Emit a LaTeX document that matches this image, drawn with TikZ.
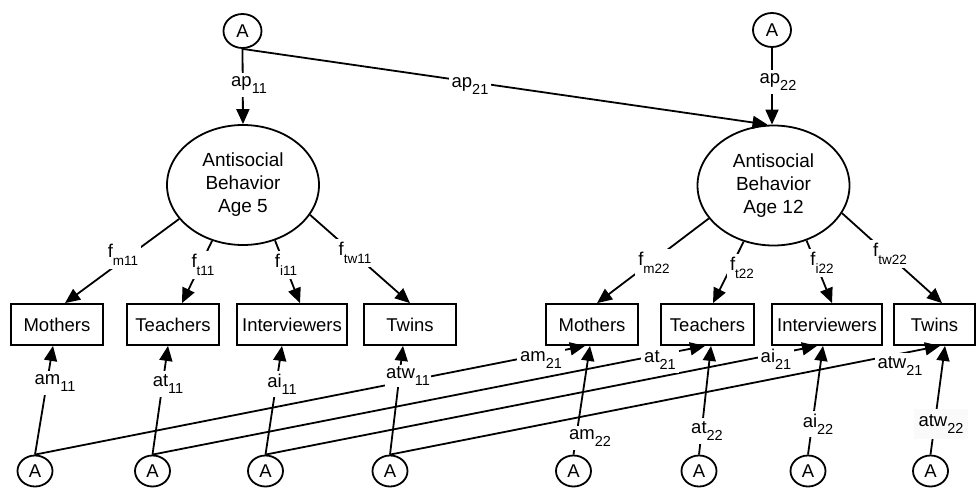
\documentclass[tikz,border=0pt]{standalone}
\usepackage{fontspec}
\setmainfont{Liberation Sans}
\usetikzlibrary{arrows.meta,calc,shapes.geometric}
\newcommand\sbx[1]{\raisebox{-0.4em}{\fontsize{14.5}{14.5}\selectfont #1}}
\newcommand\sbf[1]{\raisebox{-0.42em}{\fontsize{13.5}{13.5}\selectfont #1}}
\begin{document}
\begin{tikzpicture}[x=1pt,y=-1pt,
  every node/.style={font=\fontsize{18.5}{23}\selectfont},
  acirc/.style={ellipse, draw, line width=1.8pt, minimum width=38pt, minimum height=34pt, inner sep=0pt},
  bcirc/.style={ellipse, draw, line width=1.8pt, minimum width=35pt, minimum height=31pt, inner sep=0pt},
  fac/.style={ellipse, draw, line width=1.8pt, minimum width=152pt, minimum height=120pt, inner sep=0pt, align=center, font=\fontsize{19}{23}\selectfont},
  obs/.style={rectangle, draw, line width=1.8pt, minimum height=41pt, inner sep=0pt},
  arr/.style={line width=1.8pt, -{Triangle[length=15pt,width=13pt]}},
  lbl/.style={fill=white, inner sep=3pt}]
\useasboundingbox (0,0) rectangle (976,489);

% latent nodes
\node[acirc] (tA1) at (242.5,31) {A};
\node[acirc] (tA2) at (772,30) {A};
\node[fac] (e1) at (243,185) {Antisocial\\Behavior\\Age 5};
\node[fac] (e2) at (773.5,185.5) {Antisocial\\Behavior\\Age 12};

% observed boxes
\node[obs, minimum width=92pt] (m1) at (57,324.5) {Mothers};
\node[obs, minimum width=92pt] (t1) at (173,324.5) {Teachers};
\node[obs, minimum width=110pt] (i1) at (292,324.5) {Interviewers};
\node[obs, minimum width=92pt] (w1) at (410,324.5) {Twins};
\node[obs, minimum width=92pt] (m2) at (592,324.5) {Mothers};
\node[obs, minimum width=93pt] (t2) at (707.5,324.5) {Teachers};
\node[obs, minimum width=110pt] (i2) at (827,324.5) {Interviewers};
\node[obs, minimum width=81pt] (w2) at (934.5,324.5) {Twins};

% bottom A circles
\node[bcirc] (b1) at (35,471) {A};
\node[bcirc] (b2) at (152.5,471) {A};
\node[bcirc] (b3) at (265.5,471) {A};
\node[bcirc] (b4) at (390,471) {A};
\node[bcirc] (b5) at (573.5,471) {A};
\node[bcirc] (b6) at (699,471) {A};
\node[bcirc] (b7) at (808,471) {A};
\node[bcirc] (b8) at (930.5,471) {A};

% top paths
\draw[arr] (tA1.south) -- (e1.north);
\draw[arr] (tA1.south) -- ($(e2.north)+(-6,0)$);
\draw[arr] (tA2.south) -- ($(e2.north)+(-1.5,0)$);

% factor loadings
\draw[arr] (e1.208) -- ($(m1.north)+(8,0)$);
\draw[arr] (e1.241) -- ($(t1.north)+(9,0)$);
\draw[arr] (e1.300) -- ($(i1.north)+(8,0)$);
\draw[arr] (e1.336) -- (w1.north);
\draw[arr] (e2.207) -- ($(m2.north)+(5,0)$);
\draw[arr] (e2.242) -- ($(t2.north)+(5.5,0)$);
\draw[arr] (e2.301) -- ($(i2.north)+(5,0)$);
\draw[arr] (e2.338) -- ($(w2.north)+(7.5,0)$);

% bottom paths
\draw[arr] (b1.north) -- ($(m1.south)+(-4,0)$);
\draw[arr] (b1.north) -- ($(m2.south)+(-7,0)$);
\draw[arr] (b2.north) -- ($(t1.south)+(-5,0)$);
\draw[arr] (b2.north) -- ($(t2.south)+(-2.5,0)$);
\draw[arr] (b3.north) -- ($(i1.south)+(-10,0)$);
\draw[arr] (b3.north) -- ($(i2.south)+(-10,0)$);
\draw[arr] (b4.north) -- ($(w1.south)+(-7,0)$);
\draw[arr] (b4.north) -- ($(w2.south)+(5.5,0)$);
\draw[arr] (b5.north) -- ($(m2.south)+(-2,0)$);
\draw[arr] (b6.north) -- ($(t2.south)+(3.5,0)$);
\draw[arr] (b7.north) -- ($(i2.south)+(-4,0)$);
\draw[arr] (b8.north) -- ($(w2.south)+(10.5,0)$);

% labels
\node[lbl] (lap11) at (249,85) {ap\sbx{11}};
\node[lbl] (lap21) at (470,86) {ap\sbx{21}};
\node[lbl] (lap22) at (778,82) {ap\sbx{22}};

\node[lbl] (lfm11) at (123,255) {f\sbf{m11}};
\node[lbl] (lft11) at (203,265) {f\sbf{t11}};
\node[lbl] (lfi11) at (286,265) {f\sbf{i11}};
\node[lbl] (lftw11) at (355,253) {f\sbf{tw11}};
\node[lbl] (lfm22) at (654,263) {f\sbf{m22}};
\node[lbl] (lft22) at (742,268) {f\sbf{t22}};
\node[lbl] (lfi22) at (822,263) {f\sbf{i22}};
\node[lbl] (lftw22) at (890,254) {f\sbf{tw22}};

\node[lbl] (lam11) at (55,383) {am\sbx{11}};
\node[lbl] (lat11) at (168,384) {at\sbx{11}};
\node[lbl] (lai11) at (282,384) {ai\sbx{11}};
\node[lbl, inner sep=1pt] (latw11) at (408,376) {atw\sbx{11}};
\node[lbl] (lam21) at (541,360) {am\sbx{21}};
\node[lbl] (lat21) at (660,360) {at\sbx{21}};
\node[lbl] (lai21) at (776,359) {ai\sbx{21}};
\node[lbl] (latw21) at (900,366) {atw\sbx{21}};
\node[lbl] (lam22) at (590,438) {am\sbx{22}};
\node[lbl] (lat22) at (707,431) {at\sbx{22}};
\node[lbl] (lai22) at (818,424) {ai\sbx{22}};
\node[lbl, fill=gray!4, inner sep=5pt] (latw22) at (941,424) {atw\sbx{22}};
\end{tikzpicture}
\end{document}
